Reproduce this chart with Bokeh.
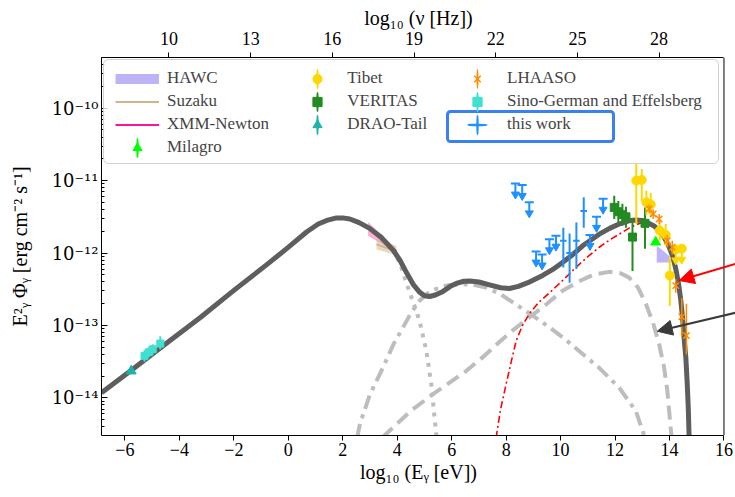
import numpy as np
from bokeh.plotting import figure
from bokeh.models import (Range1d, LinearAxis, FixedTicker, CustomJSTickFormatter, Span,
                          Legend, LegendItem, BoxAnnotation, Arrow, NormalHead)
from bokeh.embed import file_html
from bokeh.resources import INLINE

SERIF = "Liberation Serif"

# ---------------- axes ----------------
x_start, x_end = -6.86, 16.0
x_frame_end = 16.423
logy_start, logy_end = -14.52, -9.30
x_ticks = [-6, -4, -2, 0, 2, 4, 6, 8, 10, 12, 14, 16]
nu_ticks = [10, 13, 16, 19, 22, 25, 28]
nu_offset = 14.383          # log10(nu/Hz) = log10(E/eV) + 14.383
y_ticks = [1e-14, 1e-13, 1e-12, 1e-11, 1e-10]
y_minor_ticks = [k * 10.0 ** e for e in range(-15, -9) for k in range(2, 10)]

# ---------------- model curves (x = log10 E/eV, logy = log10 E^2 Phi) ----------------
total_x = [-6.86, -5.80, -4.45, -3.23, -2.01, -0.79, -0.06, 0.67, 1.10, 1.41, 1.77, 2.00, 2.26,
           2.60, 2.99, 3.40, 3.85, 4.10, 4.34, 4.60, 4.82, 5.00, 5.19, 5.40, 5.68, 5.95, 6.17,
           6.45, 6.66, 7.00, 7.39, 7.80, 8.12, 8.45, 8.80, 9.34, 9.70, 10.07, 10.45, 10.81, 11.42,
           11.80, 12.15, 12.50, 12.76, 13.00, 13.20, 13.45, 13.62, 13.80, 13.98, 14.12, 14.23,
           14.33, 14.41, 14.48, 14.53, 14.60, 14.65, 14.69, 14.72]
total_logy = [-13.93, -13.63, -13.24, -12.89, -12.52, -12.16, -11.94, -11.71, -11.60, -11.55,
              -11.515, -11.515, -11.53, -11.58, -11.66, -11.78, -11.96, -12.10, -12.27, -12.44,
              -12.54, -12.59, -12.60, -12.58, -12.53, -12.46, -12.42, -12.39, -12.385, -12.40,
              -12.44, -12.48, -12.49, -12.46, -12.41, -12.31, -12.23, -12.13, -12.02, -11.90,
              -11.74, -11.66, -11.60, -11.555, -11.545, -11.55, -11.58, -11.63, -11.69, -11.78,
              -11.91, -12.05, -12.22, -12.42, -12.64, -12.90, -13.15, -13.45, -13.80, -14.15, -14.55]

sync_x = [-6.86, -5.80, -4.45, -3.23, -2.01, -0.79, -0.06, 0.67, 1.10, 1.41, 1.77, 2.00, 2.26,
          2.60, 2.99, 3.40, 3.85, 4.09, 4.30, 4.52, 4.70, 4.82, 5.07, 5.25, 5.37, 5.46]
sync_logy = [-13.93, -13.63, -13.24, -12.89, -12.52, -12.16, -11.94, -11.71, -11.60, -11.55,
             -11.515, -11.515, -11.53, -11.58, -11.66, -11.78, -11.97, -12.13, -12.37, -12.61,
             -12.80, -12.94, -13.35, -13.81, -14.27, -14.60]

ic1_x = [2.53, 2.63, 3.00, 3.48, 3.85, 4.21, 4.50, 4.82, 5.10, 5.40, 5.80, 6.30, 6.80, 7.30,
         7.80, 8.40, 9.00, 9.60, 10.10, 10.70, 11.40, 12.15, 12.76, 13.07]
ic1_logy = [-14.55, -14.36, -13.95, -13.58, -13.27, -13.03, -12.83, -12.66, -12.56, -12.50,
            -12.45, -12.43, -12.44, -12.48, -12.57, -12.72, -12.87, -13.03, -13.17, -13.36,
            -13.58, -13.86, -14.18, -14.52]

ic2_x = [3.45, 3.73, 4.50, 5.31, 6.00, 6.53, 7.20, 7.75, 8.30, 8.85, 9.50, 10.07, 10.68, 11.20,
         11.78, 12.20, 12.52, 12.85, 13.13, 13.40, 13.62, 13.80, 13.92, 14.04, 14.08]
ic2_logy = [-14.55, -14.45, -14.18, -13.95, -13.77, -13.63, -13.42, -13.23, -13.05, -12.89,
            -12.70, -12.52, -12.39, -12.30, -12.26, -12.28, -12.34, -12.48, -12.70, -12.97,
            -13.26, -13.58, -13.90, -14.41, -14.55]

had_x = [7.63, 7.80, 8.00, 8.20, 8.37, 8.60, 8.85, 9.20, 9.59, 10.10, 10.56, 11.00, 11.42, 11.80,
         12.15, 12.50, 12.76, 13.00, 13.20, 13.45, 13.62, 13.80, 13.98, 14.12, 14.23, 14.33,
         14.41, 14.48, 14.53, 14.60, 14.65, 14.69, 14.72]
had_logy = [-14.55, -14.15, -13.81, -13.48, -13.21, -13.00, -12.84, -12.68, -12.55, -12.37,
            -12.20, -12.05, -11.92, -11.82, -11.74, -11.66, -11.61, -11.58, -11.59, -11.64,
            -11.70, -11.79, -11.92, -12.06, -12.23, -12.43, -12.65, -12.91, -13.16, -13.46,
            -13.81, -14.16, -14.56]

# ---------------- measurements ----------------
hawc_x = [13.53, 13.80, 14.04]
hawc_hi = [-11.90, -11.98, -12.06]
hawc_lo = [-12.13, -12.13, -12.13]

suzaku_x = [3.24, 3.97]
suzaku_logy = [-11.88, -11.98]
suzaku_hi = [-11.80, -11.90]
suzaku_lo = [-11.95, -12.03]

xmm_x = [2.93, 3.45, 3.97]
xmm_logy = [-11.66, -11.82, -11.98]
xmm_hi = [-11.57, -11.76, -11.94]
xmm_lo = [-11.76, -11.88, -12.02]

milagro_x = [13.49]
milagro_logy = [-11.85]

tibet_x = [12.78, 12.98, 13.15, 13.31, 13.64, 13.86, 14.01]
tibet_logy = [-11.00, -10.99, -11.30, -11.33, -11.69, -11.75, -12.31]
tibet_lo = [-11.60, -11.28, -11.48, -11.50, -11.83, -11.90, -12.73]
tibet_hi = [-10.77, -10.84, -11.14, -11.17, -11.55, -11.60, -12.06]
tibet_ul_x = [14.23, 14.45]
tibet_ul_logy = [-11.95, -11.94]

veritas_x = [11.97, 12.12, 12.27, 12.40, 12.64, 13.10]
veritas_logy = [-11.37, -11.43, -11.47, -11.50, -11.78, -11.59]
veritas_lo = [-11.53, -11.58, -11.62, -11.65, -12.25, -11.94]
veritas_hi = [-11.21, -11.28, -11.32, -11.36, -11.53, -11.37]

drao_x = [-5.77]
drao_logy = [-13.63]
drao_lo = [-13.66]
drao_hi = [-13.60]

lhaaso_x = [13.25, 13.40, 13.62, 13.92, 14.10, 14.23, 14.45, 14.62]
lhaaso_logy = [-11.39, -11.46, -11.53, -11.83, -11.92, -12.45, -12.88, -13.14]
lhaaso_lo = [-11.45, -11.53, -11.60, -11.92, -12.02, -12.55, -13.15, -13.40]
lhaaso_hi = [-11.33, -11.40, -11.46, -11.75, -11.83, -12.36, -12.62, -12.70]

sg_x = [-5.28, -5.12, -4.98, -4.70]
sg_logy = [-13.42, -13.37, -13.33, -13.25]
sg_lo = [-13.50, -13.44, -13.40, -13.33]
sg_hi = [-13.34, -13.30, -13.26, -13.15]

tw_x = [10.10, 10.33, 10.58, 10.85]
tw_logy = [-11.83, -12.00, -11.83, -11.42]
tw_lo = [-12.20, -12.41, -12.22, -11.65]
tw_hi = [-11.65, -11.73, -11.58, -11.23]
tw_xerr = [0.12, 0.12, 0.12, 0.12]
tw_ul_x = [8.34, 8.59, 8.85, 9.10, 9.32, 9.59, 9.83, 11.08, 11.32, 11.56]
tw_ul_logy = [-11.04, -11.06, -11.30, -11.98, -12.02, -11.81, -11.76, -11.75, -11.50, -11.25]

# annotation arrows (start / end, data coordinates)
red_arrow = [(16.7, -12.12), (14.35, -12.38)]
black_arrow = [(16.7, -12.80), (13.55, -13.08)]

UL_STEM = 0.15  # length of upper-limit arrows in decades
NAN = [float("nan")]  # legend-only renderers


def lin(a):
    return [10.0 ** v for v in a]


p = figure(frame_width=634, frame_height=378,
           min_border_left=101, min_border_right=0, min_border_top=57, min_border_bottom=61,
           x_range=Range1d(x_start, x_frame_end),
           y_range=Range1d(10 ** logy_start, 10 ** logy_end),
           y_axis_type="log", output_backend="svg", toolbar_location=None)
p.outline_line_color = None
p.xgrid.visible = False
p.ygrid.visible = False
p.background_fill_color = "white"
p.border_fill_color = "white"


def style_axis(ax, t_in, t_out, m_in=0, m_out=0):
    ax.major_tick_in = t_in
    ax.major_tick_out = t_out
    ax.minor_tick_in = m_in
    ax.minor_tick_out = m_out
    ax.axis_line_color = "black"
    ax.major_tick_line_color = "black"
    ax.minor_tick_line_color = "black"
    ax.major_label_text_font = SERIF
    ax.major_label_text_font_size = "18px"
    ax.major_label_text_color = "black"
    ax.axis_label_text_font = SERIF
    ax.axis_label_text_font_size = "20px"
    ax.axis_label_text_font_style = "normal"
    ax.axis_label_text_color = "black"


xa = p.xaxis[0]
xa.ticker = FixedTicker(ticks=x_ticks)
xa.bounds = (x_start, x_end)
xa.axis_label = "log₁₀ (Eᵧ [eV])"
style_axis(xa, 0, 5)
xa.major_label_standoff = 2
xa.axis_label_standoff = 2

ya = p.yaxis[0]
ya.ticker = FixedTicker(ticks=y_ticks, minor_ticks=y_minor_ticks)
ya.formatter = CustomJSTickFormatter(code="""
const e = Math.round(Math.log10(tick));
const sup = {'-':'⁻','0':'⁰','1':'¹','2':'²','3':'³','4':'⁴','5':'⁵','6':'⁶','7':'⁷','8':'⁸','9':'⁹'};
return '10' + String(e).split('').map(c => sup[c]).join('');
""")
ya.axis_label = "E²ᵧ Φᵧ [erg cm⁻² s⁻¹]"
style_axis(ya, 6, 0, 3, 0)
ya.major_label_text_font = "DejaVu Serif"
ya.major_label_text_font_size = "18px"
ya.major_label_standoff = 3
ya.axis_label_standoff = 18

p.extra_x_ranges = {"nu": Range1d(x_start + nu_offset, x_frame_end + nu_offset)}
ta = LinearAxis(x_range_name="nu", ticker=FixedTicker(ticks=nu_ticks),
                bounds=(x_start + nu_offset, x_end + nu_offset), axis_label="log₁₀ (ν [Hz])")
style_axis(ta, 0, 5)
ta.major_label_standoff = 8
ta.axis_label_standoff = 0
p.add_layout(ta, "above")

p.add_layout(Span(location=x_end, dimension="height", line_color="black", line_width=1))

# ---------------- bands ----------------
p.varea(x=hawc_x, y1=lin(hawc_lo), y2=lin(hawc_hi), fill_color="mediumslateblue", fill_alpha=0.5)
p.varea(x=xmm_x, y1=lin(xmm_lo), y2=lin(xmm_hi), fill_color="hotpink", fill_alpha=0.55)
p.varea(x=suzaku_x, y1=lin(suzaku_lo), y2=lin(suzaku_hi), fill_color="tan", fill_alpha=0.5)
xmm_r = p.line(xmm_x, lin(xmm_logy), line_color="deeppink", line_width=2)
suz_r = p.line(suzaku_x, lin(suzaku_logy), line_color="tan", line_width=2)

# ---------------- model curves ----------------
GREY = "#bdbdbd"
p.line(sync_x, lin(sync_logy), line_color=GREY, line_width=4, line_dash="4 6")
p.line(ic1_x, lin(ic1_logy), line_color=GREY, line_width=4, line_dash="14 6 4 6")
p.line(ic2_x, lin(ic2_logy), line_color=GREY, line_width=4, line_dash="14 7")
p.line(had_x, lin(had_logy), line_color="red", line_width=1.6, line_dash="7 3 2 3")
p.line(total_x, lin(total_logy), line_color="#5e5e5e", line_width=5, line_join="round")


# ---------------- data points ----------------
def errbars(x, lo, hi, color, lw=2):
    p.segment(x0=x, y0=lin(lo), x1=x, y1=lin(hi), line_color=color, line_width=lw)


def upper_limits(x, logy, color):
    y = lin(logy)
    y_end = lin([v - UL_STEM for v in logy])
    p.segment(x0=x, y0=y, x1=x, y1=y_end, line_color=color, line_width=2)
    p.scatter(x=x, y=y_end, marker="inverted_triangle", size=8, fill_color=color, line_color=color)


def legend_bar(color, vertical=True, lw=2):
    # legend-only: a very thin ellipse that the legend draws as an error-bar stroke
    w, h = (1, 40) if vertical else (40, 1)
    return p.ellipse(x=NAN, y=NAN, width=w, height=h, width_units="screen", height_units="screen",
                     fill_color=color, line_color=color, line_width=lw)


errbars(sg_x, sg_lo, sg_hi, "turquoise")
sg_r = p.scatter(sg_x, lin(sg_logy), marker="square", size=7, fill_color="turquoise", line_color="turquoise")

errbars(drao_x, drao_lo, drao_hi, "lightseagreen")
drao_r = p.scatter(drao_x, lin(drao_logy), marker="triangle", size=10,
                   fill_color="lightseagreen", line_color="lightseagreen")

errbars(veritas_x, veritas_lo, veritas_hi, "forestgreen")
ver_r = p.scatter(veritas_x, lin(veritas_logy), marker="square", size=8,
                  fill_color="forestgreen", line_color="forestgreen")

errbars(tibet_x, tibet_lo, tibet_hi, "gold")
tib_r = p.scatter(tibet_x, lin(tibet_logy), marker="circle", size=9, fill_color="gold", line_color="gold")
upper_limits(tibet_ul_x, tibet_ul_logy, "gold")
p.scatter(tibet_ul_x, lin(tibet_ul_logy), marker="circle", size=9, fill_color="gold", line_color="gold")

mil_r = p.scatter(milagro_x, lin(milagro_logy), marker="triangle", size=10, fill_color="lime", line_color="lime")

errbars(lhaaso_x, lhaaso_lo, lhaaso_hi, "darkorange", lw=1.5)
lha_r = p.scatter(lhaaso_x, lin(lhaaso_logy), marker="x", size=9, line_color="darkorange", line_width=1.5)

errbars(tw_x, tw_lo, tw_hi, "dodgerblue")
p.segment(x0=[a - e for a, e in zip(tw_x, tw_xerr)], y0=lin(tw_logy),
          x1=[a + e for a, e in zip(tw_x, tw_xerr)], y1=lin(tw_logy),
          line_color="dodgerblue", line_width=2)
upper_limits(tw_ul_x, tw_ul_logy, "dodgerblue")
p.scatter(tw_ul_x, lin(tw_ul_logy), marker="dash", size=9, line_color="dodgerblue", line_width=2)

# ---------------- annotation arrows ----------------
p.add_layout(Arrow(end=NormalHead(size=15, fill_color="red", line_color="red"),
                   x_start=red_arrow[0][0], y_start=10 ** red_arrow[0][1],
                   x_end=red_arrow[1][0], y_end=10 ** red_arrow[1][1],
                   line_color="red", line_width=2))
p.add_layout(Arrow(end=NormalHead(size=15, fill_color="#3a3a3a", line_color="#3a3a3a"),
                   x_start=black_arrow[0][0], y_start=10 ** black_arrow[0][1],
                   x_end=black_arrow[1][0], y_end=10 ** black_arrow[1][1],
                   line_color="#3a3a3a", line_width=2))

# ---------------- legend ----------------
p.add_layout(BoxAnnotation(left=103, right=718, top=59, bottom=163,
                           left_units="canvas", right_units="canvas",
                           top_units="canvas", bottom_units="canvas",
                           fill_color="white", fill_alpha=0.8, line_color="#d0d0d0",
                           line_alpha=1.0, line_width=1, border_radius=5))

hawc_leg = p.line(x=NAN, y=NAN, line_color="mediumslateblue", line_alpha=0.5, line_width=10)

col1 = [LegendItem(label="HAWC", renderers=[hawc_leg]),
        LegendItem(label="Suzaku", renderers=[suz_r]),
        LegendItem(label="XMM-Newton", renderers=[xmm_r]),
        LegendItem(label="Milagro", renderers=[legend_bar("lime"), mil_r])]
col2 = [LegendItem(label="Tibet", renderers=[legend_bar("gold"), tib_r]),
        LegendItem(label="VERITAS", renderers=[legend_bar("forestgreen"), ver_r]),
        LegendItem(label="DRAO-Tail", renderers=[legend_bar("lightseagreen"), drao_r])]
col3 = [LegendItem(label="LHAASO", renderers=[legend_bar("darkorange", lw=1.5), lha_r]),
        LegendItem(label="Sino-German and Effelsberg", renderers=[legend_bar("turquoise"), sg_r]),
        LegendItem(label="this work", renderers=[legend_bar("dodgerblue"),
                                                 legend_bar("dodgerblue", vertical=False)])]


def add_legend(items, vx, vy, gw, standoff):
    lg = Legend(items=items, location=(vx, vy), orientation="vertical",
                glyph_width=gw, glyph_height=23, spacing=0, padding=0, margin=0,
                label_standoff=standoff, label_text_font=SERIF, label_text_font_size="17px",
                label_height=17, border_line_color=None, background_fill_alpha=0.0)
    p.add_layout(lg)


add_legend(col1, 14, 276.2, 44, 8)
add_legend(col2, 194.3, 299.2, 44, 8)
add_legend(col3, 363, 299.2, 26, 17)

p.add_layout(BoxAnnotation(left=447, right=613, top=111, bottom=141,
                           left_units="canvas", right_units="canvas",
                           top_units="canvas", bottom_units="canvas",
                           fill_alpha=0.0, line_color="#3a80f0", line_alpha=1.0,
                           line_width=3, border_radius=3))

open("out.html", "w").write(file_html(p, INLINE))
